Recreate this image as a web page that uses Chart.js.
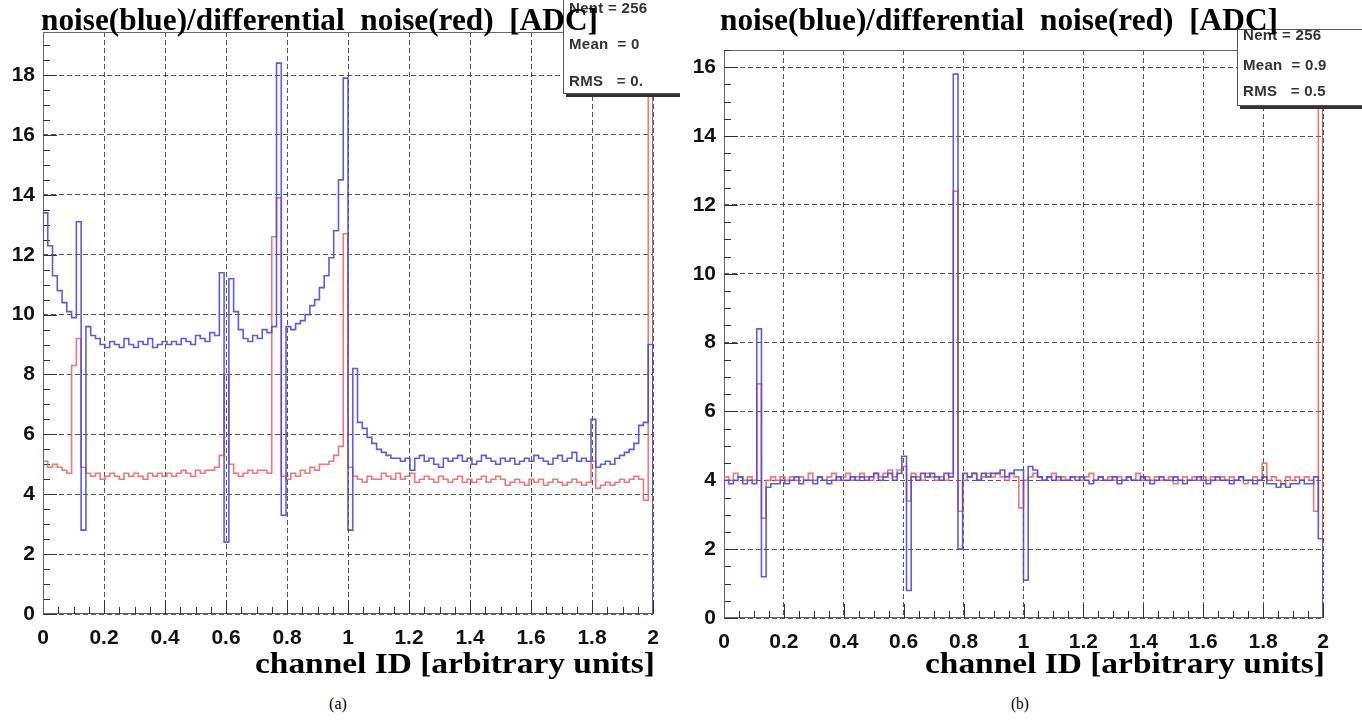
<!DOCTYPE html>
<html>
<head>
<meta charset="utf-8">
<script src="https://cdn.jsdelivr.net/npm/chart.js@4.4.0/dist/chart.umd.min.js"></script>
<style>
  html, body { margin: 0; padding: 0; background: #fff; }
  #page { position: relative; width: 1362px; height: 721px; overflow: hidden; background: #fff; }
  .panel { position: absolute; top: 0; }
  .serif { position: absolute; font-family: "Liberation Serif", "Times New Roman", serif; line-height: 1; white-space: pre; transform-origin: 0 0; color: #000; }
  .title { font-weight: bold; font-size: 31px; z-index: 5; }
  .axtitle { font-weight: bold; font-size: 30px; }
  .caption { font-size: 16px; }
  .stats { position: absolute; background: #fff; border: 1px solid #555; box-shadow: 3px 3px 0 #333; z-index: 3;
           font: bold 15px "Liberation Sans", Arial, sans-serif; color: #333; white-space: pre; overflow: hidden; letter-spacing: 0.3px; }
  .stats div { position: absolute; left: 5px; line-height: 16px; }
</style>
</head>
<body>
<div id="page">
  <div class="panel" style="left:0;width:680px;height:660px;overflow:hidden">
    <canvas id="chartA" width="680" height="660"></canvas>
    <div class="stats" style="left:563px;top:-6px;width:140px;height:98px">
      <div style="top:5px">Nent = 256</div>
      <div style="top:41px">Mean  = 0</div>
      <div style="top:78px">RMS   = 0.</div>
    </div>
  </div>
  <div class="panel" style="left:680px;width:682px;height:660px;overflow:hidden">
    <canvas id="chartB" width="682" height="660"></canvas>
    <div class="stats" style="left:557px;top:29px;width:140px;height:75px">
      <div style="top:-3px">Nent = 256</div>
      <div style="top:27px">Mean  = 0.9</div>
      <div style="top:53px">RMS   = 0.5</div>
    </div>
  </div>

  <div class="serif title" id="titleA" style="left:41px;top:4px">noise(blue)/differential  noise(red)  [ADC]</div>
  <div class="serif title" id="titleB" style="left:720px;top:4px">noise(blue)/differential  noise(red)  [ADC]</div>
  <div class="serif axtitle" id="axA" style="top:648px">channel ID [arbitrary units]</div>
  <div class="serif axtitle" id="axB" style="top:648px">channel ID [arbitrary units]</div>
  <div class="serif caption" id="capA" style="top:696px">(a)</div>
  <div class="serif caption" id="capB" style="top:696px">(b)</div>
</div>

<script>
// histogram range (channel ID, arbitrary units), 128 bins per series
const xMin = 0;
const xMax = 2;

// panel (a): noise (blue) and differential noise (red), ADC
const noiseA = [
  13.4, 12.3, 11.3, 10.8, 10.4, 10.1, 9.9, 13.1, 2.8, 9.6, 9.3,
  9.2, 9.0, 8.9, 9.1, 9.0, 8.9, 9.2, 9.0, 8.9, 9.1, 9.0, 9.2, 8.9, 9.0, 9.1, 9.0, 9.1, 9.0, 9.2, 9.1, 9.0, 9.3, 9.2, 9.1, 9.4, 9.3,
  11.4, 2.4, 11.2, 10.1,
  9.5, 9.2, 9.1, 9.3, 9.2, 9.5, 9.4,
  9.6, 18.4, 3.3,
  9.6, 9.5, 9.7, 9.8, 10.0, 10.3, 10.5, 10.9, 11.3, 11.9, 12.8, 14.5,
  17.9, 2.8, 8.2, 6.4, 6.2, 5.9, 5.7, 5.5, 5.4, 5.3, 5.2, 5.2,
  5.1, 5.2, 4.8, 5.2, 5.3, 5.1, 5.2, 5.0, 4.9, 5.2, 5.1, 5.2, 5.3, 5.1, 5.2, 5.0, 5.1, 5.3, 5.2, 5.1,
  5.0, 5.2, 5.1, 5.2, 5.0, 5.1, 5.2, 5.1, 5.3, 5.2, 5.1, 5.0, 5.2, 5.3, 5.1, 5.2, 5.4, 5.1, 5.2, 5.1,
  6.5, 4.9, 5.0, 5.1, 5.0, 5.2, 5.3, 5.4, 5.5, 5.7, 6.3, 6.4, 9.0
];
const diffA = [
  5.1, 4.9, 5.0, 4.9, 4.8, 4.7, 8.3, 9.2, 4.9, 4.7, 4.6,
  4.7, 4.5, 4.6, 4.7, 4.6, 4.5, 4.7, 4.6, 4.7, 4.6, 4.5, 4.7, 4.6, 4.7, 4.6, 4.7, 4.6, 4.7, 4.8, 4.7, 4.6, 4.8, 4.7, 4.8, 4.8, 4.9,
  5.3, 8.0, 5.0, 4.7,
  4.6, 4.7, 4.8, 4.7, 4.8, 4.8, 4.7,
  12.6, 13.9, 4.6,
  4.5, 4.7, 4.6, 4.8, 4.7, 4.9, 4.8, 5.0, 5.0, 5.1, 5.3, 5.6,
  12.7, 4.9, 4.6, 4.5, 4.4, 4.6, 4.5, 4.5, 4.7, 4.6, 4.5, 4.7,
  4.5, 4.6, 4.7, 4.4, 4.5, 4.6, 4.5, 4.4, 4.6, 4.5, 4.4, 4.5, 4.6, 4.4, 4.5, 4.4, 4.5, 4.6, 4.4, 4.5,
  4.6, 4.5, 4.3, 4.4, 4.5, 4.4, 4.3, 4.5, 4.4, 4.5, 4.3, 4.4, 4.5, 4.4, 4.3, 4.4, 4.5, 4.4, 4.3, 4.4,
  5.1, 4.2, 4.3, 4.4, 4.3, 4.4, 4.5, 4.4, 4.5, 4.6, 4.5, 3.8, 25
];

// panel (b)
const noiseB = [
  4.0, 3.9, 4.0, 4.1, 3.9, 4.0, 3.9, 8.4, 1.2, 3.8, 3.9,
  3.9, 4.0, 3.9, 4.0, 4.1, 3.9, 4.0, 4.0, 3.9, 4.1, 4.0, 3.9, 4.0, 4.1, 4.0, 4.0, 4.1, 4.0, 4.1, 4.0, 4.1, 4.2, 4.0, 4.1, 4.2, 4.0,
  4.2, 4.7, 0.8, 4.1,
  4.0, 4.2, 4.1, 4.2, 4.1, 4.0, 4.2,
  4.1, 15.8, 2.0,
  4.2, 4.1, 4.2, 4.0, 4.2, 4.1, 4.2, 4.2, 4.3, 4.1, 4.2, 4.3,
  4.3, 1.1, 4.4, 4.3, 4.1, 4.0, 4.1, 4.0, 4.1, 4.0, 4.0, 4.1,
  4.0, 4.1, 4.0, 3.9, 4.0, 4.1, 4.0, 4.0, 4.1, 3.9, 4.0, 4.1, 4.0, 4.0, 4.1, 4.0, 3.9, 4.0, 4.1, 4.0,
  4.0, 4.1, 4.0, 3.9, 4.0, 4.0, 4.1, 4.0, 3.9, 4.0, 4.1, 4.0, 4.0, 3.9, 4.0, 4.1, 4.0, 4.0, 3.9, 4.0,
  4.1, 3.9, 3.9, 3.8, 3.9, 3.8, 3.9, 3.9, 4.0, 3.9, 3.9, 4.1, 2.3
];
const diffB = [
  4.1, 4.0, 4.2, 4.1, 4.0, 4.1, 4.0, 6.8, 2.9, 4.0, 4.1,
  4.0, 4.1, 4.0, 4.1, 4.0, 4.1, 4.0, 4.2, 4.0, 4.1, 4.0, 4.1, 4.2, 4.0, 4.1, 4.2, 4.0, 4.1, 4.2, 4.1, 4.0, 4.2, 4.1, 4.2, 4.3, 4.1,
  4.3, 4.4, 3.4, 4.2,
  4.1, 4.0, 4.2, 4.1, 4.0, 4.1, 4.0,
  4.2, 12.4, 3.1,
  4.0, 4.1, 4.2, 4.0, 4.1, 4.2, 4.1, 4.2, 4.1, 4.0, 4.2, 4.1,
  3.2, 4.0, 4.1, 4.2, 4.1, 4.0, 4.1, 4.2, 4.0, 4.1, 4.0, 4.1,
  4.1, 4.0, 4.1, 4.2, 4.0, 4.1, 4.0, 4.1, 4.0, 4.1, 4.0, 4.1, 4.0, 4.2, 4.0, 4.1, 4.0, 4.1, 4.0, 4.0,
  4.1, 3.9, 4.0, 4.1, 4.0, 4.1, 4.0, 4.1, 4.0, 4.1, 4.0, 4.1, 4.0, 4.1, 4.0, 4.1, 3.9, 4.0, 4.1, 4.0,
  4.5, 4.0, 4.1, 4.0, 3.9, 4.1, 4.0, 4.1, 4.0, 4.1, 4.0, 3.1, 25
];

const blue = 'rgba(75, 75, 225, 0.9)';
const red = 'rgba(240, 95, 95, 0.85)';

// ROOT-style outline: from baseline up at the low edge, one step per bin, back down at the high edge
function histPoints(values) {
  const w = (xMax - xMin) / values.length;
  const pts = [{ x: xMin, y: 0 }];
  values.forEach((v, i) => pts.push({ x: xMin + i * w, y: v }));
  pts.push({ x: xMax, y: values[values.length - 1] });
  pts.push({ x: xMax, y: 0 });
  return pts;
}

// frame plus inner minor ticks, like a ROOT pad
const rootAxes = {
  id: 'rootAxes',
  beforeDatasetsDraw(chart, args, opts) {
    const { ctx, chartArea: a, scales: { x, y } } = chart;
    ctx.save();
    ctx.lineWidth = 1;
    ctx.strokeStyle = '#666';
    ctx.strokeRect(a.left + 0.5, a.top + 0.5, a.right - a.left - 1, a.bottom - a.top - 1);
    ctx.strokeStyle = '#333';
    ctx.beginPath();
    const nx = Math.round((x.max - x.min) / opts.xMinor);
    for (let i = 0; i <= nx; i++) {
      const px = Math.round(x.getPixelForValue(x.min + i * opts.xMinor)) + 0.5;
      const len = i % 4 === 0 ? 14 : 7;
      ctx.moveTo(px, a.bottom);
      ctx.lineTo(px, a.bottom - len);
    }
    const ny = Math.floor((y.max - y.min) / opts.yMinor + 1e-6);
    for (let j = 0; j <= ny; j++) {
      const py = Math.round(y.getPixelForValue(y.min + j * opts.yMinor)) + 0.5;
      const len = j % 4 === 0 ? 14 : 7;
      ctx.moveTo(a.left, py);
      ctx.lineTo(a.left + len, py);
    }
    ctx.stroke();
    ctx.restore();
  }
};

function makeChart(id, noise, diff, yMax, pad, yWidth, xHeight) {
  const ctx = document.getElementById(id).getContext('2d');
  return new Chart(ctx, {
    type: 'line',
    data: {
      datasets: [
        { label: 'noise', data: histPoints(noise), borderColor: blue },
        { label: 'differential noise', data: histPoints(diff), borderColor: red }
      ]
    },
    options: {
      responsive: false,
      animation: false,
      layout: { padding: pad },
      elements: {
        line: { borderWidth: 1.6, stepped: true, tension: 0, fill: false },
        point: { radius: 0, hoverRadius: 0 }
      },
      plugins: {
        legend: { display: false },
        tooltip: { enabled: false },
        rootAxes: { xMinor: 0.05, yMinor: 0.5 }
      },
      scales: {
        x: {
          type: 'linear',
          min: xMin,
          max: xMax,
          afterFit(scale) { scale.height = xHeight; },
          grid: { color: 'rgba(45,45,45,0.8)', lineWidth: 1, drawTicks: false },
          border: { display: false, dash: [5, 3] },
          ticks: {
            stepSize: 0.2,
            includeBounds: false,
            padding: 12,
            maxRotation: 0,
            color: '#111',
            font: { family: 'Liberation Sans', size: 21, weight: 'bold' },
            callback: v => String(+(+v).toFixed(1))
          }
        },
        y: {
          min: 0,
          max: yMax,
          afterFit(scale) { scale.width = yWidth; },
          grid: { color: 'rgba(45,45,45,0.8)', lineWidth: 1, drawTicks: false },
          border: { display: false, dash: [5, 3] },
          ticks: {
            stepSize: 2,
            includeBounds: false,
            padding: 8,
            color: '#111',
            font: { family: 'Liberation Sans', size: 21, weight: 'bold' },
            callback: v => Math.abs(v / 2 - Math.round(v / 2)) < 1e-6 ? String(Math.round(v)) : ''
          }
        }
      }
    },
    plugins: [rootAxes]
  });
}

makeChart('chartA', noiseA, diffA, 19.44, { left: 0, right: 27, top: 32, bottom: 0 }, 43, 46);
makeChart('chartB', noiseB, diffB, 16.5, { left: 0, right: 39, top: 50, bottom: 0 }, 44, 42);

// squeeze the serif texts to the widths seen in the figure
function fit(id, width, left, right, center) {
  const el = document.getElementById(id);
  const w = el.getBoundingClientRect().width;
  el.style.transform = 'scaleX(' + (width / w) + ')';
  if (right !== undefined) el.style.left = (right - width) + 'px';
  else if (center !== undefined) el.style.left = (center - width / 2) + 'px';
  else el.style.left = left + 'px';
}
fit('titleA', 557, 41);
fit('titleB', 558, 720);
fit('axA', 400, undefined, 655);
fit('axB', 400, undefined, 1325);
const capW = document.getElementById('capA').getBoundingClientRect().width;
fit('capA', capW, undefined, undefined, 338);
fit('capB', capW, undefined, undefined, 1020);
</script>
</body>
</html>
